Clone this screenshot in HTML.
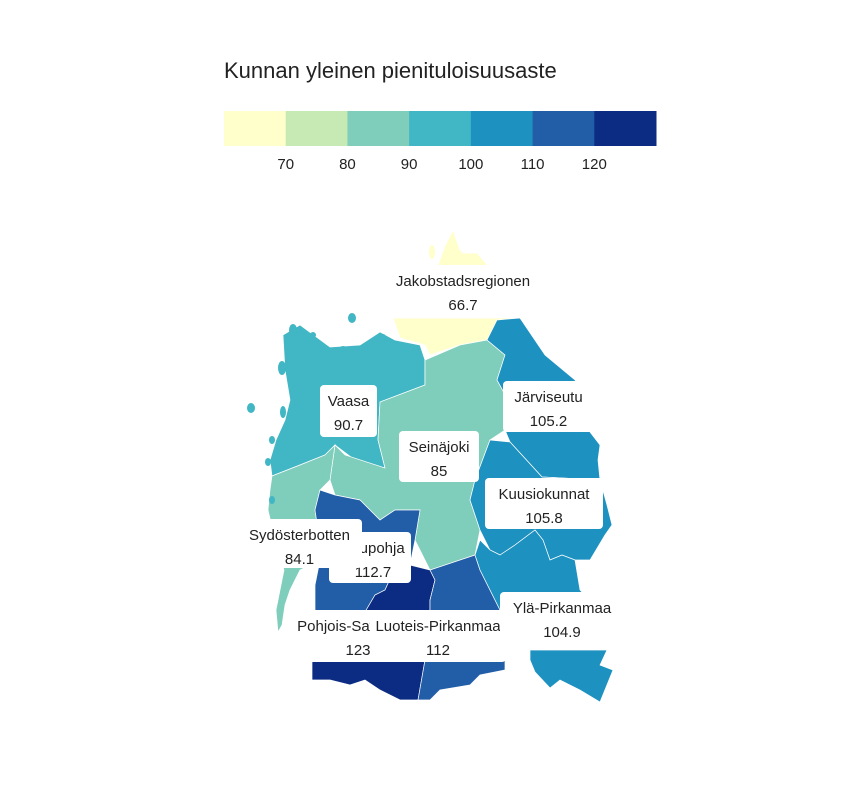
<!DOCTYPE html>
<html><head><meta charset="utf-8">
<style>
html,body{margin:0;padding:0;background:#fff;}
body{width:864px;height:792px;overflow:hidden;font-family:"Liberation Sans",sans-serif;}
svg text{font-family:"Liberation Sans",sans-serif;}
</style></head>
<body>
<svg id="chart" width="864" height="792" viewBox="0 0 864 792">
<text x="224" y="78" font-size="22" fill="#222">Kunnan yleinen pienituloisuusaste</text>
<g id="legend"></g>
<g id="map"></g>
<g id="labels"></g>
</svg>
<script>
// ---- data ----
const regions = ["Jakobstadsregionen","Vaasa","Seinäjoki","Järviseutu","Kuusiokunnat","Sydösterbotten","Suupohja","Pohjois-Satakunta","Luoteis-Pirkanmaa","Ylä-Pirkanmaa"];
const values = [66.7, 90.7, 85, 105.2, 105.8, 84.1, 112.7, 123, 112, 104.9];
const binBreaks = [70, 80, 90, 100, 110, 120];
const tickLabels = ["70","80","90","100","110","120"];
const binColors = ["#ffffcc","#c7e9b4","#7fcdbb","#41b6c4","#1d91c0","#225ea8","#0c2c84"];

// ---- geometry (map shapes) ----
const shapes = {
 "Jakobstadsregionen":[[[437,268],[445,246],[453,230],[460,250],[463,253],[477,253],[490,268]],[[393,318],[530,318],[500,322],[487,340],[460,345],[430,355],[425,345],[400,338]]],
 "Vaasa":[[[283,335],[300,325],[330,347],[360,345],[380,332],[395,340],[420,345],[425,360],[425,385],[380,402],[378,440],[385,468],[355,460],[335,445],[325,455],[300,465],[272,476],[270,460],[276,440],[285,420],[290,400],[285,370]]],
 "Seinäjoki":[[[425,360],[460,345],[487,340],[505,355],[497,380],[508,400],[505,430],[490,440],[475,480],[470,500],[480,530],[475,555],[440,567],[430,570],[415,540],[420,510],[395,510],[380,520],[360,500],[335,495],[330,480],[335,445],[345,455],[385,468],[378,440],[380,402],[425,385]]],
 "Järviseutu":[[[497,320],[520,318],[545,355],[575,380],[590,400],[590,432],[600,445],[598,460],[600,480],[542,477],[510,442],[505,430],[508,400],[497,380],[505,355],[487,340]]],
 "Kuusiokunnat":[[[510,442],[490,440],[475,480],[470,500],[480,530],[490,550],[500,555],[515,545],[535,530],[543,540],[550,560],[562,555],[575,560],[590,560],[605,535],[612,525],[607,505],[600,480],[542,477]]],
 "Sydösterbotten":[[[272,476],[300,465],[325,455],[335,445],[330,480],[320,490],[315,510],[318,530],[320,560],[300,570],[290,590],[285,605],[282,625],[278,632],[276,610],[280,590],[284,570],[275,540],[268,510],[270,490]]],
 "Suupohja":[[[320,490],[335,495],[360,500],[380,520],[395,510],[420,510],[415,540],[410,565],[395,568],[385,590],[375,595],[365,612],[315,612],[315,585],[320,560],[318,530],[315,510]]],
 "Pohjois-Satakunta":[[[365,612],[375,595],[385,590],[395,568],[410,565],[430,570],[435,580],[430,600],[430,615]],[[312,660],[425,660],[418,700],[400,700],[380,690],[365,680],[350,685],[330,680],[312,680]]],
 "Luoteis-Pirkanmaa":[[[430,570],[475,555],[480,570],[490,590],[500,610],[495,620],[430,615],[430,600],[435,580]],[[425,660],[505,660],[505,670],[480,675],[470,685],[440,690],[430,700],[418,700]]],
 "Ylä-Pirkanmaa":[[[475,555],[480,540],[490,550],[500,555],[515,545],[535,530],[543,540],[550,560],[562,555],[575,560],[580,590],[590,600],[500,610],[490,590],[480,570]],[[530,650],[607,650],[600,665],[613,670],[600,702],[580,690],[560,680],[550,688],[535,672],[530,660]]]
};
const islands = [[352,318,4,5],[293,330,4,6],[300,343,3,3],[313,335,3,3],[343,350,4,4],[370,345,4,4],[383,337,3,3],[251,408,4,5],[283,412,3,6],[272,440,3,4],[268,462,3,4],[282,368,4,7],[272,500,3,4]];
const yellowIslands = [[432,252,3,7]];
const labelBoxes = {
 "Jakobstadsregionen":[383,265,160,53],"Vaasa":[320,385,57,52],"Seinäjoki":[399,431,80,51],"Järviseutu":[503,381,91,51],
 "Kuusiokunnat":[485,478,118,51],"Suupohja":[329,532,82,51],"Sydösterbotten":[237,519,125,49],
 "Pohjois-Satakunta":[289,610,90,52],"Luoteis-Pirkanmaa":[370,610,136,52],"Ylä-Pirkanmaa":[500,592,124,58]
};
const labelOrder = ["Jakobstadsregionen","Vaasa","Seinäjoki","Järviseutu","Kuusiokunnat","Suupohja","Sydösterbotten","Pohjois-Satakunta","Luoteis-Pirkanmaa","Ylä-Pirkanmaa"];
const labelCenter = {"Suupohja":373,"Pohjois-Satakunta":358,"Luoteis-Pirkanmaa":438};

const NS="http://www.w3.org/2000/svg";
function colorFor(v){let i=0;while(i<binBreaks.length&&v>=binBreaks[i])i++;return binColors[i];}
const legendX0=224, legendX1=656, legendY=111, legendH=35;
function legendX(i){return legendX0+(legendX1-legendX0)*i/binColors.length;}

const lg=document.getElementById('legend');
binColors.forEach((c,i)=>{
 const r=document.createElementNS(NS,'rect');
 r.setAttribute('x',legendX(i));r.setAttribute('y',legendY);
 r.setAttribute('width',legendX(i+1)-legendX(i)+0.5);r.setAttribute('height',legendH);
 r.setAttribute('fill',c);
 
 
 lg.appendChild(r);
});
tickLabels.forEach((t,i)=>{
 const tx=document.createElementNS(NS,'text');
 tx.setAttribute('x',legendX(i+1));tx.setAttribute('y',169);
 tx.setAttribute('text-anchor','middle');tx.setAttribute('font-size','15');tx.setAttribute('fill','#222');
 tx.textContent=t;
 
 
 lg.appendChild(tx);
});

const mp=document.getElementById('map');
regions.forEach((name,i)=>{
 const col=colorFor(values[i]);
 shapes[name].forEach(poly=>{
  const p=document.createElementNS(NS,'polygon');
  p.setAttribute('points',poly.map(q=>q.join(',')).join(' '));
  p.setAttribute('fill',col);p.setAttribute('stroke','#fff');p.setAttribute('stroke-width','0.7');
  
  
  mp.appendChild(p);
 });
});
function addIslands(list,col){
 list.forEach(e=>{
  const el=document.createElementNS(NS,'ellipse');
  el.setAttribute('cx',e[0]);el.setAttribute('cy',e[1]);el.setAttribute('rx',e[2]);el.setAttribute('ry',e[3]);
  el.setAttribute('fill',col);
  
  
  mp.appendChild(el);
 });
}
addIslands(islands,colorFor(values[1]));
addIslands(yellowIslands,colorFor(values[0]));

const lb=document.getElementById('labels');
labelOrder.forEach(name=>{
 const i=regions.indexOf(name);const b=labelBoxes[name];
 const g=document.createElementNS(NS,'g');
 
 
 const r=document.createElementNS(NS,'rect');
 r.setAttribute('x',b[0]);r.setAttribute('y',b[1]);r.setAttribute('width',b[2]);r.setAttribute('height',b[3]);
 r.setAttribute('rx',4);r.setAttribute('fill','#fff');
 g.appendChild(r);
 const cx=labelCenter[name]||b[0]+b[2]/2;
 [name,String(values[i])].forEach((t,k)=>{
  const tx=document.createElementNS(NS,'text');
  tx.setAttribute('x',cx);tx.setAttribute('y',b[1]+21+k*24);
  tx.setAttribute('text-anchor','middle');tx.setAttribute('font-size','15');tx.setAttribute('fill','#222');
  tx.textContent=t;
  g.appendChild(tx);
 });
 lb.appendChild(g);
});
</script>
</body></html>
